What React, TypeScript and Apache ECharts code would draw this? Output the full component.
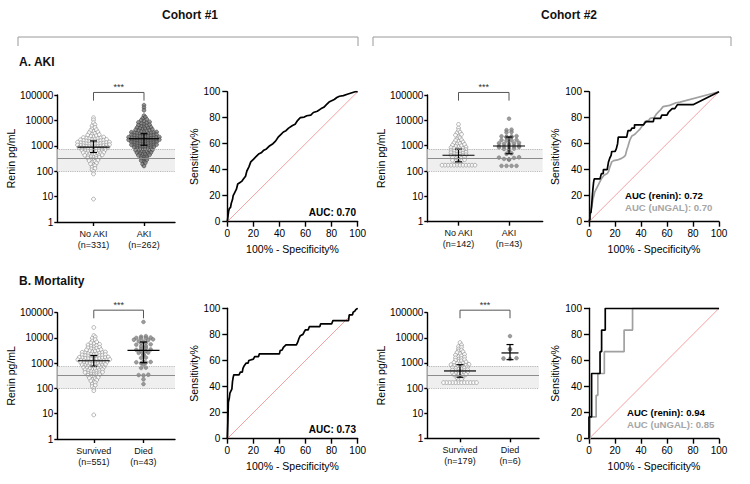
import React, { useEffect, useRef } from "react";
import * as echarts from "echarts";

// ---------------- DATA ----------------
// Renin pg/mL, cohort 1, AKI panel
const c1NoAki = [
  12800, 10500, 8200, 6100, 6800, 4700, 5300, 3700, 4000, 4300,
  2900, 3100, 3300, 3500, 2300, 2400, 2500, 2650, 2750,
  1800, 1850, 1900, 1950, 2000, 2050, 2100, 2200,
  1420, 1460, 1500, 1530, 1560, 1600, 1640, 1680, 1720, 1760,
  1130, 1150, 1170, 1190, 1210, 1240, 1260, 1290, 1320, 1350, 1380, 1400,
  900, 915, 930, 945, 960, 980, 1000, 1020, 1040, 1060, 1080, 1110,
  715, 730, 745, 760, 775, 790, 810, 830, 850, 870, 885,
  570, 585, 600, 615, 630, 650, 665, 680, 700,
  450, 465, 480, 495, 510, 525, 540, 555,
  360, 372, 385, 398, 410, 425, 440,
  285, 300, 315, 330, 345,
  230, 245, 260, 272,
  180, 195, 210,
  145, 165, 115, 130, 98, 78, 8,
];
const c1Aki = [
  40000, 32000, 25000, 15500, 12000, 13500, 9400, 10200, 11000,
  7400, 7900, 8300, 8800, 5900, 6200, 6500, 6800, 7100,
  4700, 4850, 5000, 5200, 5400, 5650,
  3700, 3850, 4000, 4100, 4250, 4400, 4550,
  2950, 3020, 3100, 3180, 3260, 3340, 3420, 3500, 3600,
  2350, 2410, 2470, 2530, 2590, 2650, 2710, 2770, 2830, 2900,
  1860, 1890, 1930, 1970, 2010, 2050, 2090, 2130, 2170, 2210, 2250, 2300,
  1480, 1510, 1540, 1570, 1600, 1630, 1660, 1690, 1720, 1750, 1780, 1820,
  1170, 1200, 1230, 1260, 1290, 1320, 1350, 1380, 1410, 1440, 1460,
  930, 955, 980, 1000, 1025, 1050, 1075, 1100, 1120, 1145,
  740, 765, 790, 815, 840, 865, 890, 910,
  590, 610, 630, 650, 670, 690, 715,
  470, 490, 510, 530, 550, 570,
  380, 400, 420, 440, 460,
  300, 320, 340, 360,
  240, 260, 280, 190, 215, 160,
];
// cohort 1, mortality panel
const c1Survived = [
  26000, 12500, 11000, 9800, 8600, 7600, 6000, 6400, 6900,
  4800, 5000, 5300, 5600, 3800, 3950, 4100, 4300, 4500,
  3000, 3120, 3240, 3360, 3480, 3600,
  2350, 2420, 2490, 2560, 2630, 2700, 2780, 2870,
  1850, 1890, 1940, 1990, 2040, 2090, 2140, 2190, 2240, 2300,
  1460, 1490, 1520, 1550, 1580, 1610, 1640, 1670, 1710, 1750, 1790,
  1150, 1170, 1190, 1215, 1240, 1265, 1290, 1320, 1350, 1380, 1410, 1440,
  910, 930, 950, 970, 990, 1010, 1030, 1055, 1080, 1105, 1130,
  720, 740, 760, 780, 800, 820, 845, 870, 890,
  570, 590, 610, 630, 650, 670, 690, 705,
  455, 470, 490, 510, 530, 550, 560,
  360, 375, 390, 405, 420, 435, 445,
  290, 305, 320, 335, 350,
  230, 245, 260, 275,
  185, 200, 215, 150, 170, 120, 135, 100, 82, 9,
];
const c1Died = [
  43000, 11800, 11300, 10400, 10100, 9900, 9700, 8800, 8500, 8300,
  7500, 7200, 6500, 6300, 5600, 5400, 4800, 4600, 4000,
  3600, 3500, 3400, 3050, 2950, 2650, 2550, 2250, 2150, 1680, 1620,
  1150, 1120, 1090, 1060, 1000, 880, 670, 650, 350, 340, 330, 230, 150,
];
// cohort 2, AKI panel
const c2NoAki = [
  6900, 5000, 4000, 3200, 3450, 2600, 2800, 2050, 2250,
  1600, 1700, 1850, 1300, 1400, 1500,
  1000, 1060, 1120, 1180, 1230,
  800, 840, 880, 920, 960,
  640, 670, 700, 730, 760, 790,
  510, 530, 550, 575, 600, 620,
  410, 425, 440, 455, 470, 490,
  320, 335, 350, 365, 380, 395,
  255, 265, 280, 295, 310,
  200, 212, 225, 240,
  170, 170, 170, 170, 170, 170, 170, 170, 170, 170, 170, 170,
];
const c2Aki = [
  11600, 4100, 4300, 3350, 3450, 2150, 2200, 2250, 2300, 2350, 2400,
  1580, 1620, 1660, 1700, 1150, 1180, 1220, 1260, 1300, 1000,
  860, 880, 900, 920, 940, 960, 720, 740, 760, 620, 480, 500,
  330, 340, 350, 280, 290, 300, 160, 160, 160, 160,
];
// cohort 2, mortality panel
const c2Survived = [
  6500, 5200, 4200, 4500, 3300, 3600, 2600, 2800, 3000, 2050, 2200, 2350,
  1600, 1700, 1800, 1900, 1280, 1350, 1420, 1500,
  1000, 1050, 1100, 1150, 1220,
  790, 820, 850, 880, 920, 960,
  640, 665, 690, 715, 740, 765,
  500, 520, 540, 565, 590, 615,
  400, 415, 430, 450, 470, 490,
  320, 335, 350, 365, 380, 395,
  255, 270, 285, 300, 205, 220, 235,
  165, 165, 165, 165, 165, 165, 165, 165, 165, 165, 165, 165,
];
const c2Died = [11700, 3600, 3400, 1550, 1500, 1450];

// median, Q1, Q3 per group
const c1AkiStats = [[880, 545, 1550], [1900, 1050, 3000]];
const c1MortStats = [[1250, 760, 2000], [3200, 1050, 6900]];
const c2AkiStats = [[420, 230, 730], [970, 480, 2200]];
const c2MortStats = [[480, 270, 850], [2500, 1350, 5400]];

// reference range band (low, mid, high)
const refRange = [100, 320, 730];
// significance bracket (end level, top level)
const bracketLevels = [60000, 126000];

// category labels
const c1AkiLabels = ["No AKI\n(n=331)", "AKI\n(n=262)"];
const c1MortLabels = ["Survived\n(n=551)", "Died\n(n=43)"];
const c2AkiLabels = ["No AKI\n(n=142)", "AKI\n(n=43)"];
const c2MortLabels = ["Survived\n(n=179)", "Died\n(n=6)"];

// ROC curves [100% - specificity, sensitivity]
const rocC1Aki = [
  [0, 0], [0.5, 4], [1, 8], [1.5, 10], [2.5, 11], [3, 14], [4, 17], [4.5, 20], [5.5, 22],
  [7, 25], [8, 29], [9.5, 30], [11, 31], [12.5, 33], [14, 35], [15, 39], [16.5, 42],
  [18, 46], [20, 48], [22, 50], [24, 52], [26, 53], [28, 55], [30, 56], [32, 58],
  [35, 60], [37, 62], [39, 65], [41, 67], [43, 69], [45, 70], [47, 72], [50, 74],
  [52, 75], [54, 78], [56, 80], [59, 80.5], [61, 81.5], [64, 82], [66, 84], [69, 85],
  [72, 87], [74, 88], [76, 90], [78, 92], [80, 93], [82, 94], [84, 95.5], [86, 96.5],
  [89, 97], [92, 98], [95, 99], [98, 100], [100, 100],
];
const rocC1Mort = [
  [0, 0], [0.5, 15], [0.8, 28], [1.5, 31], [2, 35], [3, 37], [3.5, 38], [4, 44], [4.5, 47],
  [5, 49], [9, 49], [10, 51], [11.5, 51], [12, 54], [13, 56], [14.5, 58], [16, 58],
  [16.5, 60], [20, 61], [21, 63], [24, 63], [24.5, 65], [40, 65], [40.5, 67.5], [42, 68],
  [43, 70], [45, 72], [53, 72], [54, 74], [55, 77], [56, 79], [58, 80], [59, 82],
  [60, 83.5], [62, 83.5], [63, 86], [71, 86], [71.5, 88], [80, 88], [81, 90.5],
  [93, 90.5], [93.5, 95], [96, 95], [96.5, 97], [98, 98], [98.5, 99], [100, 100],
];
const rocC2AkiRenin = [
  [0, 0], [0.7, 2], [0.7, 7], [1.5, 7], [2, 12], [2.5, 19], [3, 25], [3.5, 30], [4, 30],
  [4, 33], [8.5, 33], [9.5, 37], [11, 37], [11, 40], [14, 40], [15, 46], [16, 49],
  [17, 51], [17.5, 54], [20, 54], [21, 56], [22, 60], [22.5, 65], [29, 65], [30, 70],
  [32, 70], [33, 72], [35, 72], [35, 74.5], [42, 74.5], [43, 76], [44, 77], [49.5, 77],
  [50, 79.5], [55, 79.5], [56, 82], [60, 82], [61, 84], [62, 85], [64, 87], [66, 87],
  [68, 90], [80, 90], [100, 100],
];
const rocC2AkiNgal = [
  [0, 0], [1, 5], [1.5, 9], [2.5, 14], [3, 17], [4.5, 23], [5.5, 25], [7, 28], [8, 30],
  [9.5, 33], [11, 35], [12, 36], [14, 37], [15, 38.5], [16, 42], [17.5, 46], [19, 47],
  [22, 47.5], [25, 48.7], [27, 50], [28, 51], [29, 55], [30, 58], [31.5, 63], [33, 66],
  [35, 67], [37, 69], [39, 71], [40.5, 73], [42, 75], [43, 77], [46, 78], [47, 79.5],
  [50, 80], [52, 83], [54, 85], [55, 86], [57, 88.5], [62, 89.5], [67, 91.5], [70, 92],
  [100, 100],
];
const rocC2MortRenin = [
  [0, 0], [0, 16.7], [2, 16.7], [2, 50], [8.5, 50], [8.5, 66.7], [9.7, 66.7],
  [9.7, 83.3], [12.5, 83.3], [12.5, 100], [100, 100],
];
const rocC2MortNgal = [
  [0, 0], [0.8, 0], [0.8, 16.7], [5.5, 16.7], [5.5, 33.3], [6.8, 33.3], [6.8, 50],
  [11.8, 50], [11.8, 66.7], [27, 66.7], [27, 83.3], [33.5, 83.3], [33.5, 100], [100, 100],
];
const diagonal = [[0, 0], [100, 100]];

const aucC1Aki = "AUC: 0.70";
const aucC1Mort = "AUC: 0.73";
const aucC2Aki = ["AUC (renin): 0.72", "AUC (uNGAL): 0.70"];
const aucC2Mort = ["AUC (renin): 0.94", "AUC (uNGAL): 0.85"];

// ---------------- LAYOUT ----------------
const FONT = '"Liberation Sans", Arial, Helvetica, sans-serif';
const GRIDS = [
  { left: 57.3, top: 95, width: 117.7, height: 127 },
  { left: 227.3, top: 91.7, width: 130.4, height: 130 },
  { left: 427.3, top: 95, width: 115.4, height: 126.7 },
  { left: 589, top: 91.7, width: 130, height: 130 },
  { left: 57.3, top: 312.7, width: 117.7, height: 126.3 },
  { left: 227.3, top: 308.3, width: 130.4, height: 130.4 },
  { left: 427.3, top: 312.7, width: 111.7, height: 125.6 },
  { left: 589, top: 308.3, width: 130, height: 130.4 },
];

const hollow = { color: "#ffffff", borderColor: "#8a8a8a", borderWidth: 0.8 };
const darkFill = { color: "#7a7a7a", borderColor: "#2f2f2f", borderWidth: 0.6 };
const greyFill = { color: "#858585", borderColor: "#6a6a6a", borderWidth: 0.5 };

type Panel = {
  grid: number; xmin: number; xmax: number; labels: string[]; groups: number[][];
  stats: number[][]; styles: any[]; spacing: number[]; nameGap: number; medHalf: number[];
};

const scatterPanels: Panel[] = [
  { grid: 0, xmin: -0.717, xmax: 1.614, labels: c1AkiLabels, groups: [c1NoAki, c1Aki], stats: c1AkiStats,
    styles: [hollow, darkFill], spacing: [2.9, 2.8], nameGap: 31, medHalf: [16, 15] },
  { grid: 2, xmin: -0.618, xmax: 1.667, labels: c2AkiLabels, groups: [c2NoAki, c2Aki], stats: c2AkiStats,
    styles: [hollow, greyFill], spacing: [3, 5], nameGap: 35, medHalf: [16, 16] },
  { grid: 4, xmin: -0.734, xmax: 1.634, labels: c1MortLabels, groups: [c1Survived, c1Died], stats: c1MortStats,
    styles: [hollow, greyFill], spacing: [2.9, 4.8], nameGap: 31, medHalf: [16, 16] },
  { grid: 6, xmin: -0.654, xmax: 1.58, labels: c2MortLabels, groups: [c2Survived, c2Died], stats: c2MortStats,
    styles: [hollow, greyFill], spacing: [3, 6.5], nameGap: 36, medHalf: [16, 8.5] },
];

// row-binned dot-plot layout (like GraphPad scatter dot plot)
function dotLayout(values: number[], center: number, spacingPx: number, unitPx: number) {
  const rows = new Map<number, number[]>();
  values.forEach((v) => {
    const k = Math.round(Math.log10(v) * 10);
    if (!rows.has(k)) rows.set(k, []);
    rows.get(k)!.push(v);
  });
  const pts: number[][] = [];
  rows.forEach((list) => {
    list.sort((a, b) => a - b);
    const n = list.length;
    const offs = list.map((_, i) => (i - (n - 1) / 2) * spacingPx);
    const order = offs.map((_, i) => i).sort((a, b) => Math.abs(offs[a]) - Math.abs(offs[b]) || offs[a] - offs[b]);
    list.forEach((v, i) => pts.push([center + offs[order[i]] / unitPx, v]));
  });
  return pts;
}

const axisLineStyle = { color: "#000", width: 1.4 };

function buildOption() {
  const xAxis: any[] = [];
  const yAxis: any[] = [];
  const series: any[] = [];

  // scatter panels
  scatterPanels.forEach((p) => {
    const g = GRIDS[p.grid];
    const unitPx = g.width / (p.xmax - p.xmin);
    xAxis[p.grid] = {
      type: "value", gridIndex: p.grid, min: p.xmin, max: p.xmax,
      axisLine: { show: true, onZero: false, lineStyle: axisLineStyle },
      axisTick: { show: true, customValues: [0, 1], length: 4, lineStyle: axisLineStyle },
      axisLabel: {
        customValues: [0, 1], formatter: (v: number) => p.labels[Math.round(v)] ?? "",
        fontSize: 9, color: "#111", lineHeight: 11, margin: 6, fontFamily: FONT,
      },
      splitLine: { show: false },
    };
    yAxis[p.grid] = {
      type: "log", gridIndex: p.grid, logBase: 10, min: 1, max: 100000,
      axisLine: { show: true, onZero: false, lineStyle: axisLineStyle },
      axisTick: { show: true, length: 3, lineStyle: axisLineStyle },
      minorTick: { show: false },
      axisLabel: { formatter: (v: number) => String(Math.round(v)), fontSize: 10, color: "#000", margin: 4, fontFamily: FONT },
      splitLine: { show: false },
      name: "Renin pg/mL", nameLocation: "middle", nameGap: p.nameGap,
      nameTextStyle: { fontSize: 10.5, color: "#000", fontFamily: FONT },
    };
    // reference band
    series.push({
      type: "line", xAxisIndex: p.grid, yAxisIndex: p.grid, data: [[0, refRange[1]]],
      symbol: "none", lineStyle: { opacity: 0 }, silent: true, z: 1,
      markArea: { silent: true, itemStyle: { color: "#efefef" }, data: [[{ yAxis: refRange[0] }, { yAxis: refRange[2] }]] },
      markLine: {
        silent: true, symbol: "none", label: { show: false },
        data: [
          { yAxis: refRange[0], lineStyle: { type: "dotted", color: "#a8a8a8", width: 0.9 } },
          { yAxis: refRange[2], lineStyle: { type: "dotted", color: "#a8a8a8", width: 0.9 } },
          { yAxis: refRange[1], lineStyle: { type: "solid", color: "#8c8c8c", width: 1 } },
        ],
      },
    });
    p.groups.forEach((vals, gi) => {
      series.push({
        type: "scatter", xAxisIndex: p.grid, yAxisIndex: p.grid, z: 2,
        data: dotLayout(vals, gi, p.spacing[gi], unitPx),
        symbol: "circle", symbolSize: 3.8, itemStyle: p.styles[gi],
      });
    });
    // median + IQR
    series.push({
      type: "custom", xAxisIndex: p.grid, yAxisIndex: p.grid, z: 3, clip: false,
      encode: { x: 0, y: [1, 2, 3] },
      data: p.stats.map((s, i) => [i, s[0], s[1], s[2]]),
      renderItem: (params: any, api: any) => {
        const x = api.value(0);
        const c = api.coord([x, api.value(1)]);
        const b = api.coord([x, api.value(2)]);
        const t = api.coord([x, api.value(3)]);
        const hw = p.medHalf[params.dataIndex];
        const cap = 3.5;
        const st = { stroke: "#000", lineWidth: 1.2 };
        return {
          type: "group",
          children: [
            { type: "line", shape: { x1: c[0] - hw, y1: c[1], x2: c[0] + hw, y2: c[1] }, style: st },
            { type: "line", shape: { x1: t[0], y1: t[1], x2: b[0], y2: b[1] }, style: st },
            { type: "line", shape: { x1: t[0] - cap, y1: t[1], x2: t[0] + cap, y2: t[1] }, style: st },
            { type: "line", shape: { x1: b[0] - cap, y1: b[1], x2: b[0] + cap, y2: b[1] }, style: st },
          ],
        };
      },
    });
    // significance bracket
    series.push({
      type: "custom", xAxisIndex: p.grid, yAxisIndex: p.grid, z: 3, clip: false,
      encode: { x: [0, 1], y: [2, 3] },
      data: [[0, 1, bracketLevels[0], bracketLevels[1]]],
      renderItem: (params: any, api: any) => {
        const a = api.coord([api.value(0), api.value(2)]);
        const b = api.coord([api.value(0), api.value(3)]);
        const c = api.coord([api.value(1), api.value(3)]);
        const d = api.coord([api.value(1), api.value(2)]);
        return {
          type: "group",
          children: [
            { type: "polyline", shape: { points: [a, b, c, d] }, style: { stroke: "#555", lineWidth: 1, fill: null } },
            { type: "text", style: { text: "***", x: (b[0] + c[0]) / 2, y: b[1] - 1, align: "center", verticalAlign: "bottom", fontSize: 9, fontFamily: FONT, fill: "#333" } },
          ],
        };
      },
    });
  });

  // ROC panels
  const rocPanels = [
    { grid: 1, curves: [{ d: rocC1Aki, c: "#000" }], nameGap: 26 },
    { grid: 3, curves: [{ d: rocC2AkiNgal, c: "#a0a0a0" }, { d: rocC2AkiRenin, c: "#000" }], nameGap: 29 },
    { grid: 5, curves: [{ d: rocC1Mort, c: "#000" }], nameGap: 26 },
    { grid: 7, curves: [{ d: rocC2MortNgal, c: "#a0a0a0" }, { d: rocC2MortRenin, c: "#000" }], nameGap: 29 },
  ];
  rocPanels.forEach((r) => {
    xAxis[r.grid] = {
      type: "value", gridIndex: r.grid, min: 0, max: 100, interval: 20,
      axisLine: { show: true, onZero: false, lineStyle: axisLineStyle },
      axisTick: { show: true, length: 5, lineStyle: axisLineStyle },
      axisLabel: { fontSize: 10, color: "#000", margin: 7, fontFamily: FONT },
      splitLine: { show: false },
      name: "100% - Specificity%", nameLocation: "middle", nameGap: 22,
      nameTextStyle: { fontSize: 10.5, color: "#000", fontFamily: FONT },
    };
    yAxis[r.grid] = {
      type: "value", gridIndex: r.grid, min: 0, max: 100, interval: 20,
      axisLine: { show: true, onZero: false, lineStyle: axisLineStyle },
      axisTick: { show: true, length: 5, lineStyle: axisLineStyle },
      axisLabel: { fontSize: 10, color: "#000", margin: 7, fontFamily: FONT },
      splitLine: { show: false },
      name: "Sensitivity%", nameLocation: "middle", nameGap: r.nameGap,
      nameTextStyle: { fontSize: 10.5, color: "#000", fontFamily: FONT },
    };
    series.push({
      type: "line", xAxisIndex: r.grid, yAxisIndex: r.grid, data: diagonal, symbol: "none", z: 1,
      lineStyle: { color: "#f08a8a", width: 0.8 }, silent: true,
    });
    r.curves.forEach((cv) => {
      series.push({
        type: "line", xAxisIndex: r.grid, yAxisIndex: r.grid, data: cv.d, symbol: "none", z: 2,
        lineStyle: { color: cv.c, width: 1.7 }, silent: true,
      });
    });
  });

  const boldText = (text: string, x: number, y: number, align: string, fill = "#000", size = 10) => ({
    type: "text", x, y, silent: true,
    style: { text, fill, font: `bold ${size}px ${FONT}`, align, verticalAlign: "middle" },
  });

  const graphic = [
    boldText("Cohort #1", 190, 15, "center", "#111", 12),
    boldText("Cohort #2", 569, 15, "center", "#111", 12),
    { type: "polyline", silent: true, shape: { points: [[18, 46], [18, 37], [358, 37], [358, 46]] }, style: { stroke: "#999", lineWidth: 1, fill: null } },
    { type: "polyline", silent: true, shape: { points: [[373, 46], [373, 37], [731, 37], [731, 46]] }, style: { stroke: "#999", lineWidth: 1, fill: null } },
    boldText("A. AKI", 19, 62, "left", "#111", 12),
    boldText("B. Mortality", 19, 281, "left", "#111", 12),
    boldText(aucC1Aki, 356, 212, "right"),
    boldText(aucC1Mort, 356, 429, "right"),
    boldText(aucC2Aki[0], 625, 195, "left", "#000", 9.6),
    boldText(aucC2Aki[1], 625, 207, "left", "#a6a6a6", 9.6),
    boldText(aucC2Mort[0], 627, 412, "left", "#000", 9.6),
    boldText(aucC2Mort[1], 627, 424.5, "left", "#a6a6a6", 9.6),
  ];

  return {
    animation: false,
    backgroundColor: "#ffffff",
    textStyle: { fontFamily: FONT },
    grid: GRIDS.map((g) => ({ ...g, containLabel: false })),
    xAxis, yAxis, series, graphic,
  };
}

export default function App() {
  const ref = useRef<HTMLDivElement>(null);
  useEffect(() => {
    if (!ref.current) return;
    const chart = echarts.init(ref.current, undefined, { renderer: "svg" });
    chart.setOption(buildOption() as any);
    return () => chart.dispose();
  }, []);
  return <div ref={ref} style={{ position: "absolute", left: 0, top: 0, width: 750, height: 484, background: "#fff" }} />;
}
